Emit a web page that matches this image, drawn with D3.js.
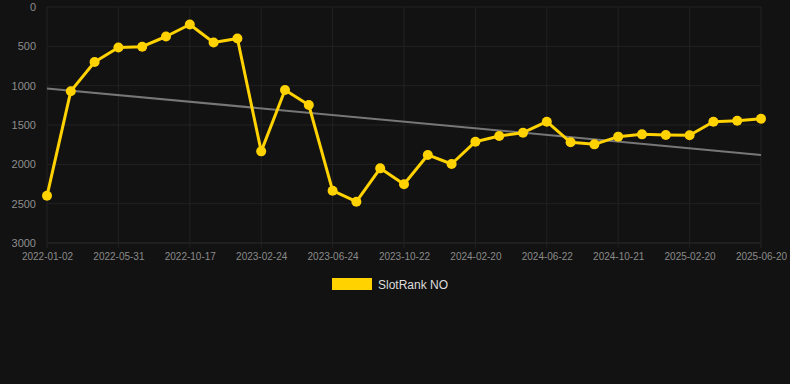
<!DOCTYPE html>
<html><head><meta charset="utf-8">
<script src="https://cdn.jsdelivr.net/npm/d3@7"></script>
<style>html,body{margin:0;padding:0;background:#121212;}svg{display:block;}</style>
</head><body><svg id="c" width="790" height="384"></svg>
<script>
const dates = ["2022-01-02","2022-02-21","2022-04-11","2022-05-31","2022-07-16","2022-08-31","2022-10-17","2022-11-30","2023-01-12","2023-02-24","2023-04-05","2023-05-15","2023-06-24","2023-08-03","2023-09-12","2023-10-22","2023-12-01","2024-01-10","2024-02-20","2024-04-01","2024-05-12","2024-06-22","2024-08-01","2024-09-10","2024-10-21","2024-12-01","2025-01-10","2025-02-20","2025-04-01","2025-05-11","2025-06-20"];
const values = [2400,1070,700,515,505,375,222,451,400,1835,1055,1246,2335,2475,2051,2254,1881,1996,1712,1640,1598,1458,1720,1746,1648,1619,1627,1631,1458,1445,1420];
const trendValues = [1035,1880];
const yTicks = [0,500,1000,1500,2000,2500,3000];
const tickDates = ["2022-01-02","2022-05-31","2022-10-17","2023-02-24","2023-06-24","2023-10-22","2024-02-20","2024-06-22","2024-10-21","2025-02-20","2025-06-20"];
const seriesName = "SlotRank NO";

const svg = d3.select("#c");
const m = {l:47, r:29, t:7, b:141};
const W = 790, H = 384;
const x = d3.scalePoint().domain(dates).range([m.l, W - m.r]);
const y = d3.scaleLinear().domain([0,3000]).range([m.t, H - m.b]);

const grid = svg.append("g");
grid.selectAll("line.h").data(yTicks).join("line")
  .attr("x1", m.l).attr("x2", W - m.r)
  .attr("y1", d => y(d)).attr("y2", d => y(d))
  .attr("stroke", d => d === 3000 ? "#2c2c2c" : "#222").attr("stroke-width", 1);
grid.selectAll("line.v").data(tickDates).join("line")
  .attr("x1", d => x(d)).attr("x2", d => x(d))
  .attr("y1", m.t).attr("y2", y(3000) + 5)
  .attr("stroke", "#222").attr("stroke-width", 1);

const yAxis = d3.axisLeft(y).tickValues(yTicks).tickFormat(d3.format("d")).tickSize(0).tickPadding(11);
const ya = svg.append("g").attr("transform", `translate(${m.l},0)`).call(yAxis);
ya.select(".domain").remove();
ya.selectAll("text").attr("fill", "#8e8e8e").style("font-family", "Arial, 'Liberation Sans', sans-serif").style("font-size", "11px");

const xAxis = d3.axisBottom(x).tickValues(tickDates).tickSize(0).tickPadding(10);
const xa = svg.append("g").attr("transform", `translate(0,${y(3000)})`).call(xAxis);
xa.select(".domain").remove();
xa.selectAll("text").attr("fill", "#8a8a8a").style("font-family", "Arial, 'Liberation Sans', sans-serif").style("font-size", "10px");

svg.append("line")
  .attr("x1", x(dates[0])).attr("x2", x(dates[dates.length-1]))
  .attr("y1", y(trendValues[0])).attr("y2", y(trendValues[1]))
  .attr("stroke", "#777").attr("stroke-width", 2);

const data = dates.map((d,i) => ({d, v: values[i]}));
svg.append("path").datum(data)
  .attr("d", d3.line().x(p => x(p.d)).y(p => y(p.v)))
  .attr("fill", "none").attr("stroke", "#FFD200").attr("stroke-width", 3).attr("stroke-linejoin", "round");
svg.selectAll("circle.pt").data(data).join("circle")
  .attr("cx", p => x(p.d)).attr("cy", p => y(p.v)).attr("r", 5)
  .attr("fill", "#FFD200");

const lg = svg.append("g");
lg.append("rect").attr("x", 332).attr("y", 278).attr("width", 40).attr("height", 12).attr("fill", "#FFD200");
lg.append("text").attr("x", 378).attr("y", 288.5).text(seriesName)
  .attr("fill", "#dddddd").style("font-family", "Arial, 'Liberation Sans', sans-serif").style("font-size", "12px");
</script></body></html>
